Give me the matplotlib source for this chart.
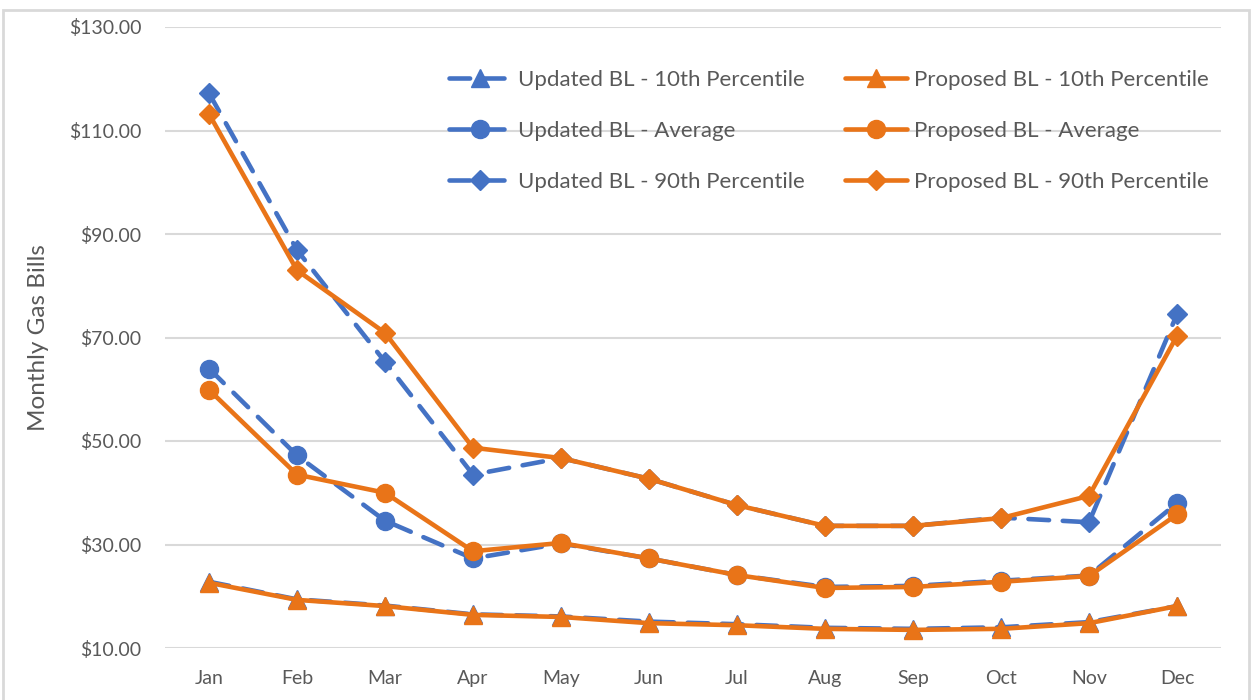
import matplotlib.pyplot as plt
from matplotlib.patches import Rectangle

plt.rcParams["font.family"] = ["Lato", "DejaVu Sans"]

months = ["Jan", "Feb", "Mar", "Apr", "May", "Jun", "Jul", "Aug", "Sep", "Oct", "Nov", "Dec"]

updated_p10 = [22.8, 19.4, 18.2, 16.5, 16.1, 15.1, 14.6, 13.9, 13.7, 14.0, 15.0, 18.1]
updated_avg = [64.0, 47.2, 34.6, 27.3, 30.2, 27.3, 24.1, 21.8, 22.0, 23.0, 24.0, 38.0]
updated_p90 = [117.2, 86.9, 65.3, 43.5, 46.7, 42.7, 37.6, 33.6, 33.6, 35.2, 34.3, 74.5]

proposed_p10 = [22.6, 19.3, 18.1, 16.4, 16.0, 14.8, 14.4, 13.7, 13.5, 13.7, 14.8, 18.1]
proposed_avg = [59.9, 43.5, 40.0, 28.7, 30.3, 27.3, 24.1, 21.6, 21.8, 22.8, 23.9, 35.8]
proposed_p90 = [113.2, 83.0, 70.9, 48.7, 46.7, 42.7, 37.6, 33.6, 33.6, 35.1, 39.4, 70.3]

yticks = [10, 30, 50, 70, 90, 110, 130]

BLUE = "#4472C4"
ORANGE = "#E97418"
GRID = "#D9D9D9"
TEXT = "#595959"

fig = plt.figure(figsize=(12.55, 7), dpi=100)
ax = fig.add_axes([165 / 1255, 52 / 700, 1056 / 1255, 621 / 700])

x = list(range(len(months)))

updated = [
    (updated_p10, "^", "Updated BL - 10th Percentile"),
    (updated_avg, "o", "Updated BL - Average"),
    (updated_p90, "D", "Updated BL - 90th Percentile"),
]
proposed = [
    (proposed_p10, "^", "Proposed BL - 10th Percentile"),
    (proposed_avg, "o", "Proposed BL - Average"),
    (proposed_p90, "D", "Proposed BL - 90th Percentile"),
]

marker_sizes = {"^": 12.5, "o": 13, "D": 10.5}

for values, marker, label in updated:
    ax.plot(x, values, color=BLUE, lw=3.3, marker=marker, ms=marker_sizes[marker],
            dashes=(4.5, 3), dash_capstyle="round", label=label, zorder=3)

for values, marker, label in proposed:
    ax.plot(x, values, color=ORANGE, lw=3.3, marker=marker, ms=marker_sizes[marker],
            solid_capstyle="round", label=label, zorder=4)

ax.set_xlim(-0.5, len(months) - 0.5)
ax.set_ylim(10, 130)
ax.set_yticks(yticks)
ax.set_yticklabels([f"${v:.2f}" for v in yticks])
ax.set_xticks(x)
ax.set_xticklabels(months)
ax.tick_params(axis="both", length=0, labelsize=14, colors=TEXT)
ax.tick_params(axis="x", pad=16)
ax.tick_params(axis="y", pad=17)
ax.grid(axis="y", color=GRID, lw=1.5)
ax.set_axisbelow(True)
for spine in ax.spines.values():
    spine.set_visible(False)

ax.set_ylabel("Monthly Gas Bills", fontsize=17.5, color=TEXT, labelpad=14)

leg = ax.legend(ncol=2, loc="upper left", bbox_to_anchor=(429 / 1255, 650 / 700),
                bbox_transform=fig.transFigure, frameon=False, fontsize=16,
                handlelength=2.8, handletextpad=0.3, columnspacing=1.8,
                labelspacing=1.4, labelcolor=TEXT)

fig.patches.append(Rectangle((3 / 1255, -0.01), 1246 / 1255, 0.996,
                             transform=fig.transFigure, fill=False,
                             edgecolor="#D9D9D9", lw=2))

fig.savefig("out.png", dpi=100)
